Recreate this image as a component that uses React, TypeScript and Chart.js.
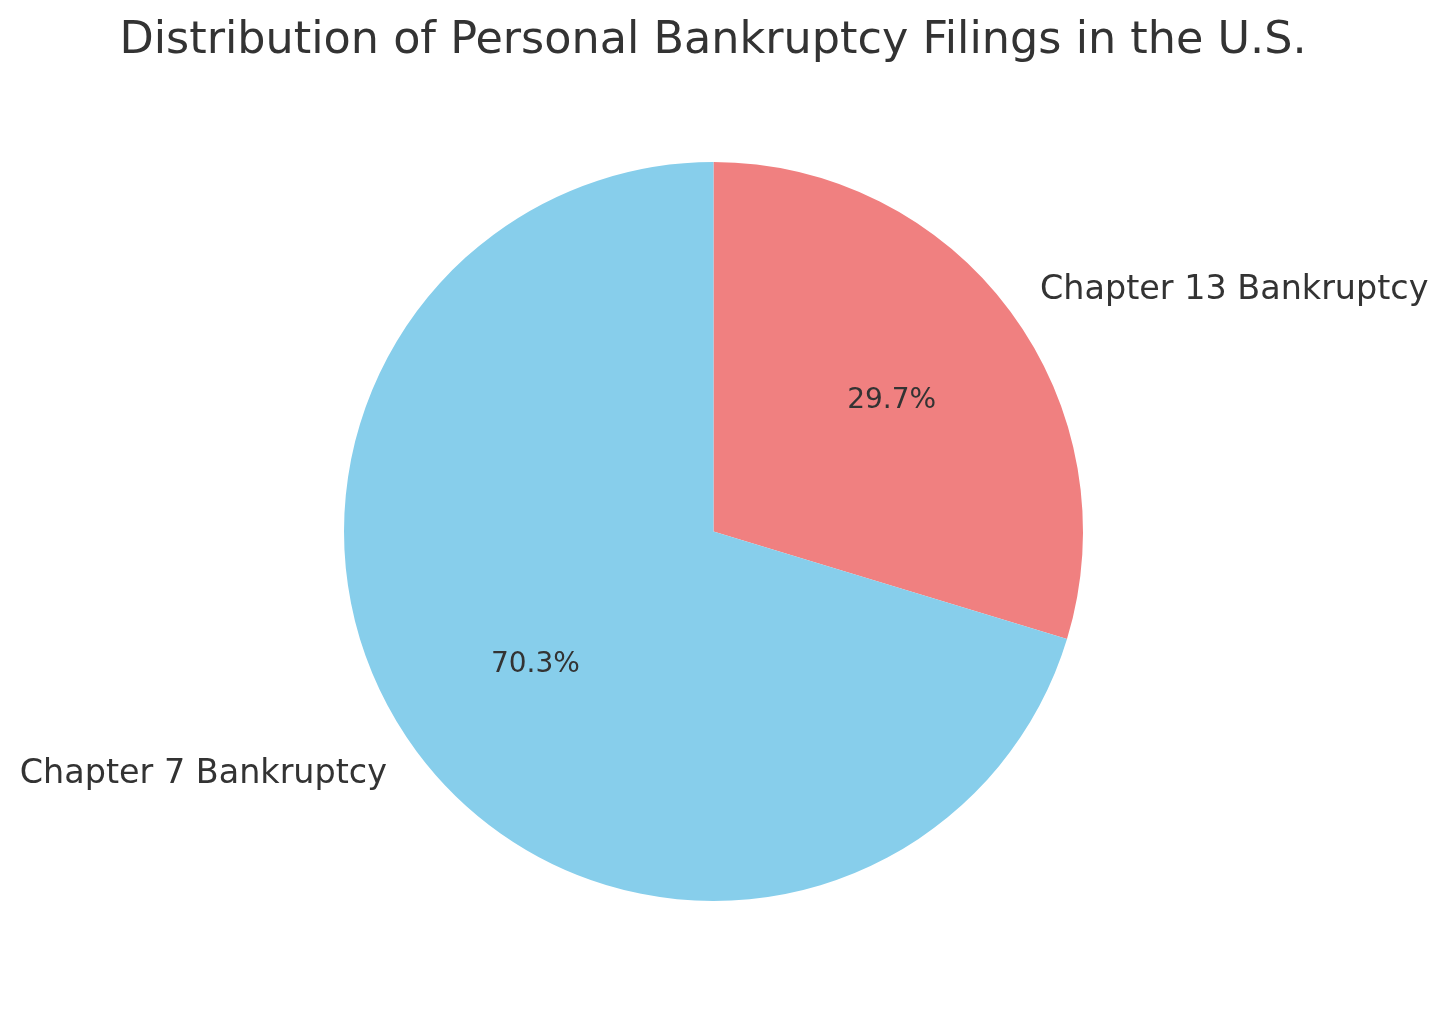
import React, { useEffect, useRef } from "react";
import { Chart, registerables } from "chart.js";

Chart.register(...registerables);

const TITLE = "Distribution of Personal Bankruptcy Filings in the U.S.";
// Ordered clockwise from 12 o'clock (Chart.js draws clockwise)
const categories = ["Chapter 13 Bankruptcy", "Chapter 7 Bankruptcy"];
const shares = [29.7, 70.3];
const colors = ["#F08080", "#87CEEB"];
const TEXT_COLOR = "#333333";
const FONT = "'DejaVu Sans', sans-serif";

const labelPlugin = {
  id: "pieLabels",
  afterDraw(chart: any) {
    const ctx = chart.ctx;
    const meta = chart.getDatasetMeta(0);
    const total = shares.reduce((a, b) => a + b, 0);
    ctx.save();
    ctx.fillStyle = TEXT_COLOR;
    // title
    ctx.font = `44.5px ${FONT}`;
    ctx.textAlign = "center";
    ctx.textBaseline = "middle";
    ctx.fillText(TITLE, chart.width / 2 - 11, 41);
    meta.data.forEach((arc: any, i: number) => {
      const mid = (arc.startAngle + arc.endAngle) / 2;
      const r = arc.outerRadius;
      const cos = Math.cos(mid);
      const sin = Math.sin(mid);
      // outer label
      ctx.font = `33.4px ${FONT}`;
      ctx.textAlign = cos >= 0 ? "left" : "right";
      ctx.textBaseline = "middle";
      ctx.fillText(categories[i], arc.x + 1.1 * r * cos, arc.y + 1.1 * r * sin + 1);
      // percentage
      ctx.font = `28px ${FONT}`;
      ctx.textAlign = "center";
      const pct = ((shares[i] / total) * 100).toFixed(1) + "%";
      ctx.fillText(pct, arc.x + 0.6 * r * cos, arc.y + 0.6 * r * sin + 1.5);
    });
    ctx.restore();
  },
};

export default function App() {
  const ref = useRef<HTMLCanvasElement>(null);
  useEffect(() => {
    document.body.style.margin = "0";
    const chart = new Chart(ref.current!, {
      type: "pie",
      data: {
        labels: categories,
        datasets: [
          {
            data: shares,
            backgroundColor: colors,
            borderWidth: 0,
          },
        ],
      },
      options: {
        responsive: false,
        animation: false,
        rotation: 0,
        layout: { padding: { top: 162, bottom: 113, left: 344, right: 365 } },
        plugins: { legend: { display: false }, tooltip: { enabled: false }, title: { display: false } },
      },
      plugins: [labelPlugin],
    });
    return () => chart.destroy();
  }, []);
  return (
    <div style={{ width: 1448, height: 1014, background: "#fff" }}>
      <canvas ref={ref} width={1448} height={1014} style={{ display: "block" }} />
    </div>
  );
}
